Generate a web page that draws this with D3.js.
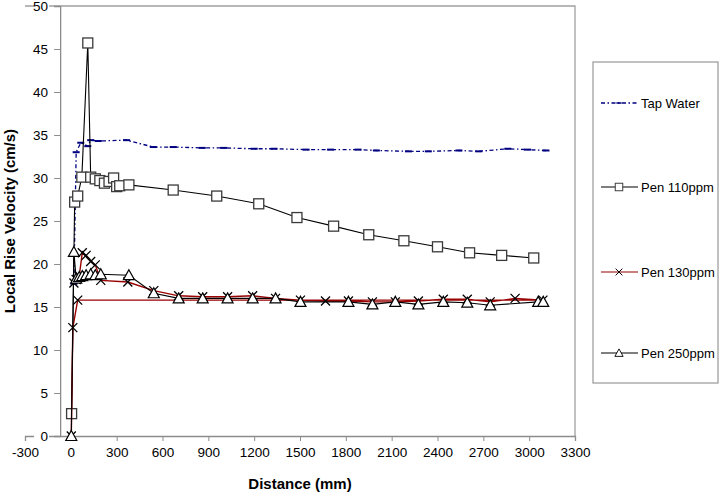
<!DOCTYPE html>
<html>
<head>
<meta charset="utf-8">
<script src="https://cdn.jsdelivr.net/npm/d3@7"></script>
<style>
  body { margin: 0; background: #fff; }
  text { font-family: "Liberation Sans", Arial, sans-serif; }
</style>
</head>
<body>
<svg id="chart"></svg>
<script>
// axis ticks
var xTicks = [-300, 0, 300, 600, 900, 1200, 1500, 1800, 2100, 2400, 2700, 3000, 3300];
var yTicks = [0, 5, 10, 15, 20, 25, 30, 35, 40, 45, 50];

// Tap Water
var tapX = [20, 35, 65, 111, 130, 180, 365, 540, 670, 860, 1000, 1200, 1330, 1540, 1700, 1880, 2000, 2210, 2340, 2540, 2670, 2860, 2990, 3110];
var tapY = [17.7, 33.0, 34.1, 33.7, 34.4, 34.3, 34.4, 33.6, 33.6, 33.5, 33.5, 33.4, 33.4, 33.3, 33.3, 33.3, 33.2, 33.1, 33.1, 33.2, 33.1, 33.4, 33.3, 33.2];

// Pen 110ppm
var p110X = [5, 25, 45, 72, 111, 130, 160, 190, 220, 250, 280, 300, 320, 380, 670, 955, 1230, 1480, 1720, 1950, 2180, 2400, 2610, 2820, 3030];
var p110Y = [2.6, 27.2, 27.9, 30.1, 45.7, 30.1, 29.9, 29.7, 29.4, 29.6, 30.0, 29.0, 29.1, 29.2, 28.6, 27.9, 27.0, 25.4, 24.4, 23.4, 22.7, 22.0, 21.3, 21.0, 20.7];

// Pen 130ppm
var p130X = [3, 13, 45, 3090, 2908, 2745, 2595, 2438, 2275, 2124, 1974, 1817, 1667, 1503, 1340, 1190, 1026, 863, 706, 543, 373, 196, 160, 130, 100, 75, 55, 35, 20];
var p130Y = [0, 12.6, 15.8, 15.8, 16.0, 15.6, 15.9, 15.9, 15.7, 15.6, 15.6, 15.7, 15.7, 15.8, 16.0, 16.3, 16.2, 16.2, 16.3, 16.9, 17.9, 18.1, 19.9, 20.3, 21.0, 21.3, 18.6, 18.2, 17.8];

// Pen 250ppm
var p250X = [3, 20, 35, 55, 75, 100, 130, 160, 196, 380, 543, 706, 863, 1026, 1190, 1340, 1503, 1817, 1974, 2124, 2275, 2438, 2595, 2745, 3059, 3092];
var p250Y = [0, 21.4, 18.3, 18.5, 18.6, 18.7, 18.8, 18.7, 18.8, 18.7, 16.6, 16.0, 16.0, 16.0, 16.0, 16.0, 15.6, 15.6, 15.3, 15.6, 15.3, 15.6, 15.5, 15.2, 15.6, 15.6];

var seriesNames = ["Tap Water", "Pen 110ppm", "Pen 130ppm", "Pen 250ppm"];

var svgWidth = 724, svgHeight = 493;
var svg = d3.select("#chart")
            .attr("width", svgWidth)
            .attr("height", svgHeight);

var x = d3.scaleLinear().domain([-300, 3300]).range([25, 575]);
var y = d3.scaleLinear().domain([0, 50]).range([436, 6]);
var yCross = -70; // vertical axis crosses here

function zip(xs, ys) {
    return xs.map(function(d, i) { return [d, ys[i]]; });
}

var series = [
    {name: seriesNames[0], pts: zip(tapX, tapY), color: "#000080", width: 1.3, dash: "4,2.5,1.5,2.5", marker: "dash"},
    {name: seriesNames[1], pts: zip(p110X, p110Y), color: "#000", width: 1.1, dash: null, marker: "square"},
    {name: seriesNames[2], pts: zip(p130X, p130Y), color: "#990000", width: 1.4, dash: null, marker: "cross"},
    {name: seriesNames[3], pts: zip(p250X, p250Y), color: "#000", width: 1.1, dash: null, marker: "triangle"}
];

// plot border (top and right)
svg.append("path")
    .attr("d", "M" + x(-300) + "," + y(50) + "H" + x(3300) + "V" + y(0))
    .attr("fill", "none")
    .attr("stroke", "#a0a0a0")
    .attr("stroke-width", 1.3);

// x axis
var xAxis = d3.axisBottom(x).tickValues(xTicks).tickSize(5).tickPadding(6)
              .tickFormat(function(d) { return String(d); });
var gx = svg.append("g").attr("transform", "translate(0," + y(0) + ")").call(xAxis);
gx.select(".domain").attr("stroke", "#8c8c8c").attr("stroke-width", 1.3);
gx.selectAll(".tick line").attr("stroke", "#8c8c8c");
gx.selectAll("text").attr("font-size", "13.5px").attr("fill", "#000")
  .attr("font-family", "'Liberation Sans', Arial, sans-serif");

// y axis
var yAxis = d3.axisLeft(y).tickValues(yTicks).tickSize(6).tickPadding(6);
var gy = svg.append("g").attr("transform", "translate(" + x(yCross) + ",0)").call(yAxis);
gy.select(".domain").attr("stroke", "#8c8c8c").attr("stroke-width", 1.3);
gy.selectAll(".tick line").attr("stroke", "#8c8c8c");
gy.selectAll(".tick").insert("rect", "text")
  .attr("x", -26).attr("y", -7).attr("width", 15).attr("height", 14).attr("fill", "#fff");
gy.selectAll("text").attr("font-size", "13.5px").attr("fill", "#000")
  .attr("font-family", "'Liberation Sans', Arial, sans-serif");

// markers
function drawMarker(g, type, color) {
    if (type == "square") {
        g.append("rect").attr("x", -5).attr("y", -5).attr("width", 10).attr("height", 10)
         .attr("fill", "#fff").attr("stroke", "#3a3a3a").attr("stroke-width", 1.3);
    } else if (type == "triangle") {
        g.append("path").attr("d", "M0,-5.5L5.5,4.5L-5.5,4.5Z")
         .attr("fill", "#fff").attr("stroke", "#000").attr("stroke-width", 1.2);
    } else if (type == "cross") {
        g.append("path").attr("d", "M-4.5,-4.5L4.5,4.5M-4.5,4.5L4.5,-4.5")
         .attr("stroke", "#000").attr("stroke-width", 1.3);
    } else if (type == "dash") {
        g.append("rect").attr("x", -3.5).attr("y", -1).attr("width", 7).attr("height", 2)
         .attr("fill", color);
    }
}

var line = d3.line()
             .x(function(d) { return x(d[0]); })
             .y(function(d) { return y(d[1]); });

series.forEach(function(s) {
    svg.append("path")
        .attr("d", line(s.pts))
        .attr("fill", "none")
        .attr("stroke", s.color)
        .attr("stroke-width", s.width)
        .attr("stroke-dasharray", s.dash);
    svg.selectAll(null)
        .data(s.pts)
        .enter()
        .append("g")
        .attr("transform", function(d) { return "translate(" + x(d[0]) + "," + y(d[1]) + ")"; })
        .each(function() { drawMarker(d3.select(this), s.marker, s.color); });
});

// axis titles
svg.append("text")
    .attr("x", 300).attr("y", 489)
    .attr("text-anchor", "middle")
    .attr("font-size", "15px").attr("font-weight", "bold")
    .text("Distance (mm)");
svg.append("text")
    .attr("transform", "translate(15,221) rotate(-90)")
    .attr("text-anchor", "middle")
    .attr("font-size", "15px").attr("font-weight", "bold")
    .text("Local Rise Velocity (cm/s)");

// legend
var legend = svg.append("g");
legend.append("rect")
    .attr("x", 593).attr("y", 62).attr("width", 125).attr("height", 321)
    .attr("fill", "#fff").attr("stroke", "#a0a0a0").attr("stroke-width", 1.3);
var legendY = [103, 187, 272, 353];
series.forEach(function(s, i) {
    var ly = legendY[i];
    legend.append("line")
        .attr("x1", 601).attr("x2", 638).attr("y1", ly).attr("y2", ly)
        .attr("stroke", s.color == "#990000" ? "#b85555" : s.color)
        .attr("stroke-width", s.width)
        .attr("stroke-dasharray", s.dash);
    var m = legend.append("g").attr("transform", "translate(619," + ly + ") scale(0.75)");
    drawMarker(m, s.marker, s.color);
    legend.append("text")
        .attr("x", 641).attr("y", ly + 4.5)
        .attr("font-size", "13px")
        .text(s.name);
});
</script>
</body>
</html>
